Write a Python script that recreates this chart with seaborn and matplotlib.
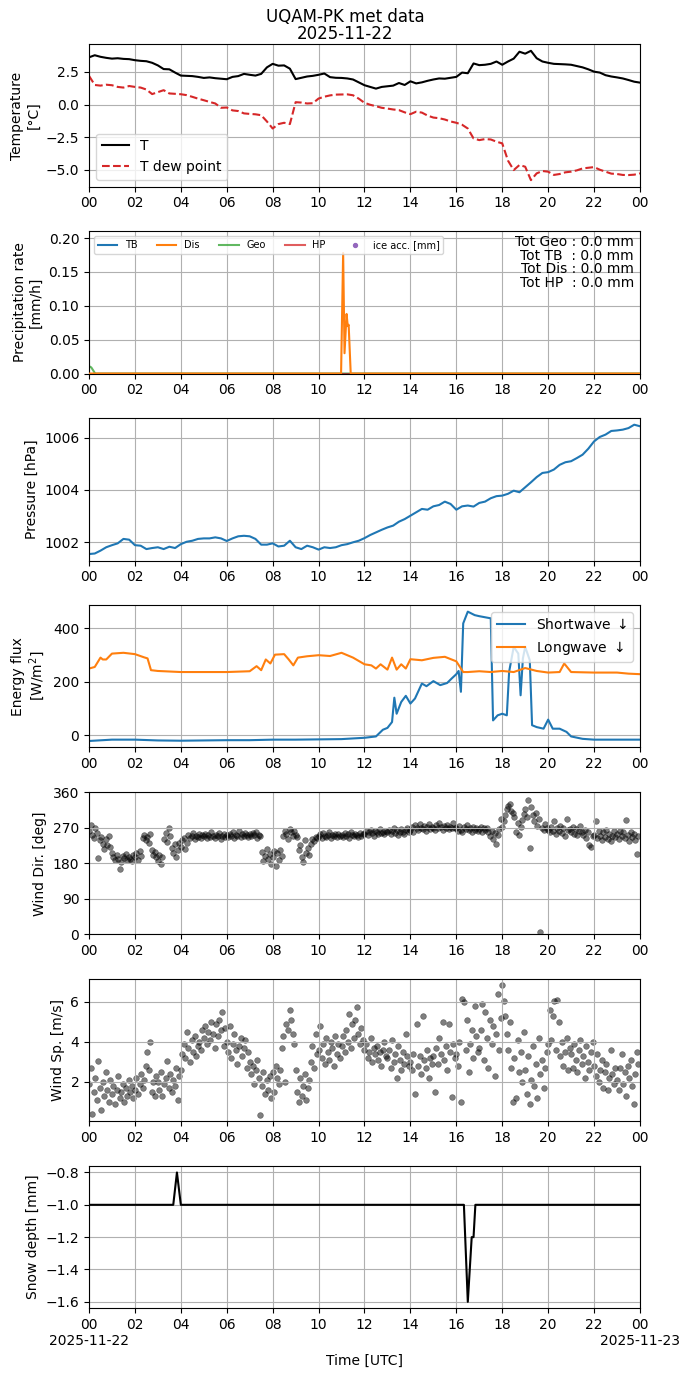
import matplotlib
matplotlib.use("Agg")
import matplotlib.pyplot as plt
import matplotlib.dates as mdates
from matplotlib.ticker import FuncFormatter
import seaborn as sns
import numpy as np
import pandas as pd

DAY = pd.Timestamp("2025-11-22")

# --- air / dew point temperature, every 15 min [degC]
temp_air = [
    3.62, 3.78, 3.66, 3.58, 3.52, 3.55, 3.50, 3.48, 3.40, 3.35, 3.32, 3.20,
    3.00, 2.72, 2.70, 2.45, 2.22, 2.20, 2.18, 2.12, 2.04, 2.08, 2.02, 1.98,
    1.94, 2.12, 2.18, 2.35, 2.28, 2.22, 2.35, 2.85, 3.12, 2.98, 3.00, 2.75,
    1.95, 2.05, 2.15, 2.20, 2.28, 2.38, 2.10, 2.05, 2.04, 2.00, 1.92, 1.70,
    1.48, 1.35, 1.22, 1.35, 1.40, 1.45, 1.65, 1.50, 1.78, 1.62, 1.70, 1.82,
    1.92, 2.00, 1.98, 2.05, 2.12, 2.45, 2.40, 3.15, 3.02, 3.05, 3.12, 3.30,
    3.05, 3.30, 3.52, 4.05, 3.90, 4.12, 3.55, 3.30, 3.20, 3.12, 3.10, 3.08,
    3.05, 2.95, 2.85, 2.70, 2.52, 2.45, 2.25, 2.15, 2.08, 2.00, 1.88, 1.75,
    1.68,
]
temp_dew = [
    2.20, 1.50, 1.45, 1.52, 1.48, 1.35, 1.30, 1.42, 1.35, 1.30, 1.15, 0.80,
    0.95, 1.10, 0.85, 0.82, 0.79, 0.72, 0.59, 0.45, 0.33, 0.20, 0.08, -0.25,
    -0.23, -0.45, -0.50, -0.68, -0.72, -0.75, -0.82, -1.30, -1.84, -1.50, -1.40, -1.50,
    0.18, 0.15, 0.08, 0.10, 0.46, 0.60, 0.70, 0.76, 0.77, 0.78, 0.71, 0.45,
    0.13, -0.02, -0.13, -0.25, -0.31, -0.38, -0.43, -0.60, -0.74, -0.55, -0.62, -0.85,
    -1.00, -1.05, -1.15, -1.30, -1.40, -1.55, -1.84, -2.60, -2.73, -2.65, -2.68, -2.85,
    -2.98, -4.30, -5.03, -4.64, -4.77, -5.80, -5.28, -5.10, -5.15, -5.40, -5.33, -5.20,
    -5.15, -5.05, -4.90, -4.85, -4.80, -5.00, -5.15, -5.30, -5.33, -5.40, -5.41, -5.38,
    -5.28,
]

# --- precipitation rate [mm/h] (hours, values)
tb_hours = [0, 24]
tb_rate = [0.0, 0.0]
dis_hours = [0, 10.98, 11.07, 11.13, 11.22, 11.27, 11.31, 11.40, 24]
dis_rate = [0.0, 0.0, 0.178, 0.03, 0.088, 0.07, 0.072, 0.0, 0.0]
geo_hours = [0, 0.1, 0.27, 24]
geo_rate = [0.011, 0.009, 0.0, 0.0]
hp_hours = [0, 24]
hp_rate = [0.0, 0.0]
tot_names = ["Geo", "TB", "Dis", "HP"]
tot_values = [0.0, 0.0, 0.0, 0.0]

# --- pressure, every 15 min [hPa]
pressure = [
    1001.54, 1001.56, 1001.67, 1001.80, 1001.88, 1001.95, 1002.12, 1002.09,
    1001.88, 1001.86, 1001.73, 1001.77, 1001.80, 1001.73, 1001.82, 1001.77,
    1001.92, 1002.01, 1002.05, 1002.12, 1002.14, 1002.14, 1002.18, 1002.14,
    1002.04, 1002.14, 1002.22, 1002.24, 1002.22, 1002.12, 1001.90, 1001.90,
    1001.95, 1001.83, 1001.86, 1002.05, 1001.80, 1001.73, 1001.86, 1001.80,
    1001.71, 1001.80, 1001.77, 1001.80, 1001.88, 1001.92, 1001.99, 1002.05,
    1002.15, 1002.27, 1002.37, 1002.47, 1002.56, 1002.63, 1002.78, 1002.88,
    1003.01, 1003.14, 1003.27, 1003.24, 1003.37, 1003.42, 1003.55, 1003.46,
    1003.24, 1003.37, 1003.40, 1003.36, 1003.50, 1003.55, 1003.68, 1003.76,
    1003.78, 1003.85, 1003.97, 1003.91, 1004.10, 1004.29, 1004.49, 1004.65,
    1004.68, 1004.78, 1004.96, 1005.06, 1005.10, 1005.22, 1005.35, 1005.58,
    1005.86, 1006.03, 1006.12, 1006.26, 1006.28, 1006.31, 1006.37, 1006.50,
    1006.44,
]

# --- radiation [W/m2] (hours, values)
sw_hours = [0, 1, 2, 3, 4, 5, 6, 7, 8, 9, 10, 11, 12,
            12.5, 12.8, 13.0, 13.2, 13.3, 13.4, 13.6, 13.8, 14.0, 14.2,
            14.5, 14.7, 15.0, 15.3, 15.6, 15.8, 16.0, 16.1, 16.2, 16.3,
            16.5, 16.8, 17.0, 17.5, 17.6, 17.8, 18.0, 18.2, 18.3, 18.5,
            18.7, 18.8, 18.9, 19.0, 19.2, 19.3, 19.5, 19.8, 20.0, 20.2,
            20.5, 20.8, 21.0, 21.5, 22.0, 23.0, 24.0]
sw_flux = [-21, -16, -16, -19, -20, -19, -18, -18, -16, -16, -15, -14, -9,
           -4, 21, 28, 50, 141, 81, 125, 148, 119, 138,
           194, 184, 203, 188, 196, 213, 229, 241, 163, 419,
           463, 450, 446, 438, 56, 75, 81, 75, 238, 331,
           306, 150, 288, 331, 281, 38, 31, 25, 59, 25,
           25, 13, -4, -13, -16, -16, -16]
lw_hours = [0, 0.25, 0.5, 0.6, 0.75, 1.0, 1.5, 2.0, 2.4, 2.55, 2.7,
            3, 4, 5, 6, 7, 7.3, 7.5, 7.7, 7.9, 8.1, 8.5, 8.7, 8.9, 9.1,
            9.5, 10, 10.5, 11, 11.5, 12, 12.3, 12.5, 12.7, 13, 13.2,
            13.4, 13.6, 13.8, 14, 14.5, 15, 15.5, 16, 16.3, 16.5, 17,
            17.5, 18, 18.5, 19, 19.5, 20, 20.5, 20.7, 21, 22, 23, 23.5, 24]
lw_flux = [250, 256, 291, 284, 284, 306, 309, 304, 292, 288, 244,
           241, 237, 237, 237, 240, 259, 244, 284, 269, 302, 304, 284, 262, 291,
           296, 300, 297, 309, 291, 266, 262, 250, 266, 246, 291,
           246, 266, 250, 285, 281, 290, 294, 277, 237, 237, 240,
           237, 241, 237, 252, 241, 235, 237, 269, 237, 235, 235, 231, 229]

# --- wind, every 4 min (one row per hour)
wind_dir = [
    [262, 278, 251, 244, 270, 256, 193, 238, 247, 229, 215, 241, 226, 250, 222],
    [205, 196, 188, 201, 192, 165, 184, 199, 193, 203, 187, 197, 190, 185, 200],
    [196, 205, 188, 210, 199, 243, 251, 238, 247, 232, 254, 214, 200, 208, 196],
    [185, 201, 178, 196, 241, 256, 233, 270, 248, 219, 205, 228, 197, 214, 232],
    [222, 238, 244, 216, 230, 252, 245, 249, 256, 241, 250, 247, 253, 244, 251],
    [248, 255, 243, 251, 246, 258, 250, 244, 252, 249, 256, 241, 250, 253, 247],
    [251, 246, 255, 249, 258, 244, 252, 250, 262, 247, 254, 249, 257, 251, 246],
    [253, 248, 256, 251, 259, 245, 252, 249, 208, 186, 199, 215, 192, 203, 178],
    [196, 210, 174, 205, 188, 214, 199, 248, 262, 255, 241, 266, 258, 250, 261],
    [252, 246, 213, 226, 195, 184, 238, 207, 219, 200, 229, 241, 236, 247, 244],
    [248, 253, 245, 256, 250, 247, 252, 258, 244, 251, 249, 255, 246, 253, 250],
    [252, 247, 256, 250, 254, 245, 258, 251, 249, 255, 252, 246, 257, 250, 253],
    [255, 261, 252, 258, 264, 256, 250, 262, 259, 254, 266, 257, 260, 253, 262],
    [258, 264, 255, 261, 268, 257, 263, 252, 260, 266, 259, 255, 263, 270, 258],
    [265, 272, 260, 276, 268, 263, 279, 270, 266, 274, 262, 271, 280, 267, 273],
    [270, 265, 276, 268, 282, 271, 264, 275, 269, 278, 266, 273, 270, 283, 268],
    [268, 262, 274, 265, 259, 271, 266, 276, 263, 269, 258, 272, 265, 270, 261],
    [266, 272, 260, 268, 263, 270, 258, 248, 262, 241, 256, 228, 251, 266, 292],
    [272, 288, 301, 318, 325, 329, 312, 307, 296, 258, 283, 252, 271, 290, 305],
    [318, 296, 340, 219, 322, 301, 287, 308, 275, 293, 6, 270, 264, 279, 268],
    [265, 258, 272, 261, 287, 254, 268, 262, 275, 256, 270, 249, 291, 263, 267],
    [260, 271, 255, 266, 252, 262, 274, 258, 251, 265, 244, 259, 226, 222, 248],
    [252, 287, 244, 261, 250, 239, 258, 247, 265, 242, 255, 237, 250, 262, 246],
    [255, 241, 262, 248, 258, 244, 290, 251, 237, 259, 246, 253, 240, 203, 249],
]
wind_speed = [
    [1.9, 2.7, 0.4, 1.5, 2.2, 1.1, 3.05, 1.7, 0.6, 2.0, 1.3, 2.5, 1.6, 1.0, 2.1],
    [1.4, 1.8, 0.9, 1.6, 2.3, 1.2, 1.5, 1.9, 1.0, 1.7, 1.3, 2.1, 1.5, 1.8, 1.2],
    [1.6, 2.2, 1.4, 1.9, 2.4, 1.7, 2.1, 2.8, 3.5, 2.6, 3.98, 1.5, 2.0, 1.3, 2.3],
    [2.0, 1.6, 2.5, 1.3, 1.9, 2.2, 3.06, 1.7, 2.4, 1.5, 2.1, 1.8, 2.7, 1.1, 2.3],
    [2.6, 3.4, 3.9, 3.2, 4.5, 3.7, 3.0, 4.1, 3.5, 4.3, 3.3, 3.8, 4.0, 3.6, 4.6],
    [4.2, 4.8, 3.9, 4.5, 4.1, 5.0, 4.4, 3.7, 4.9, 4.3, 5.1, 4.6, 5.5, 3.8, 4.7],
    [4.0, 3.5, 4.8, 3.2, 3.9, 4.4, 3.6, 2.9, 3.8, 4.2, 3.3, 3.7, 4.1, 2.7, 3.5],
    [3.0, 2.4, 2.8, 1.9, 2.6, 3.1, 2.2, 0.35, 1.8, 2.5, 1.4, 2.1, 1.6, 2.3, 1.2],
    [2.5, 1.5, 2.8, 2.2, 1.9, 2.6, 3.7, 4.3, 2.0, 4.9, 4.6, 5.6, 5.1, 4.4, 3.9],
    [2.6, 1.5, 1.0, 2.2, 1.3, 1.8, 2.4, 1.1, 1.7, 2.1, 3.0, 3.8, 2.7, 4.4, 3.4],
    [3.6, 4.8, 3.2, 3.9, 2.9, 4.2, 3.5, 3.1, 4.0, 3.7, 2.8, 4.3, 3.4, 3.9, 3.2],
    [3.8, 4.3, 3.5, 4.6, 4.0, 5.4, 3.7, 4.9, 4.2, 5.1, 5.75, 4.4, 3.9, 4.7, 4.1],
    [3.6, 3.9, 3.2, 3.5, 4.2, 3.0, 3.7, 3.4, 3.8, 3.1, 3.5, 2.8, 3.6, 4.0, 3.3],
    [3.2, 3.6, 2.7, 4.1, 3.0, 3.4, 2.2, 3.8, 3.1, 2.6, 3.5, 2.9, 4.4, 3.3, 2.8],
    [3.0, 2.6, 3.4, 1.4, 4.9, 2.8, 3.3, 2.4, 5.3, 3.1, 2.7, 3.6, 2.2, 3.2, 2.9],
    [3.3, 1.5, 3.7, 2.9, 4.2, 3.4, 5.0, 3.1, 3.8, 2.6, 4.9, 3.5, 1.25, 3.9, 3.2],
    [3.4, 2.8, 4.0, 1.0, 6.17, 6.0, 3.6, 5.1, 2.5, 3.9, 4.6, 3.2, 5.8, 4.3, 3.5],
    [3.7, 4.6, 5.9, 3.1, 5.5, 4.2, 2.7, 5.1, 3.9, 4.8, 2.3, 4.4, 6.4, 3.6, 5.2],
    [6.84, 6.05, 5.3, 4.4, 3.6, 5.0, 2.7, 1.0, 3.2, 1.2, 4.1, 2.5, 3.5, 2.0, 4.5],
    [2.6, 1.4, 3.3, 0.9, 2.1, 3.8, 1.8, 2.9, 1.2, 4.2, 2.4, 3.1, 1.7, 2.7, 3.5],
    [3.9, 5.6, 4.1, 5.3, 6.05, 3.6, 6.1, 5.0, 3.3, 4.0, 2.8, 3.5, 4.2, 2.6, 3.7],
    [3.4, 2.7, 3.9, 3.1, 2.5, 3.6, 4.1, 2.9, 3.3, 2.2, 3.8, 3.0, 2.6, 3.5, 4.0],
    [2.8, 2.3, 3.4, 2.0, 2.6, 3.1, 1.7, 2.5, 2.9, 1.6, 2.2, 3.6, 2.4, 1.9, 2.7],
    [2.1, 1.6, 2.7, 3.4, 1.9, 2.5, 1.3, 2.8, 2.2, 3.1, 1.8, 0.9, 2.4, 3.5, 2.9],
]

# --- snow depth [mm] (hours, values)
snow_hours = [0, 3.67, 3.83, 4.0, 16.33, 16.5, 16.67, 16.75, 16.83, 24]
snow_depth = [-1.0, -1.0, -0.8, -1.0, -1.0, -1.6, -1.2, -1.2, -1.0, -1.0]


def at_hours(hours):
    return DAY + pd.to_timedelta(np.asarray(hours, dtype=float), unit="h")


t15 = pd.date_range(DAY, periods=len(temp_air), freq="15min")
t4 = pd.date_range(DAY, periods=24 * 15, freq="4min")

fig, axes = plt.subplots(7, 1, figsize=(6.9, 13.77), dpi=100)
plt.subplots_adjust(left=0.129, right=0.9275, bottom=0.0499, top=0.9678, hspace=0.314)
fig.suptitle("UQAM-PK met data\n" + DAY.strftime("%Y-%m-%d"), fontsize=12,
             linespacing=0.95, y=0.9945)

# Temperature
ax = axes[0]
sns.lineplot(x=t15, y=temp_air, ax=ax, color="k", label="T")
sns.lineplot(x=t15, y=temp_dew, ax=ax, color="tab:red", linestyle="--", label="T dew point")
ax.legend(loc="lower left")
ax.set_ylabel("Temperature\n[°C]")

# Precipitation
ax = axes[1]
sns.lineplot(x=at_hours(tb_hours), y=tb_rate, ax=ax, color="tab:blue", label="TB")
sns.lineplot(x=at_hours(dis_hours), y=dis_rate, ax=ax, color="tab:orange", label="Dis", zorder=4)
sns.lineplot(x=at_hours(geo_hours), y=geo_rate, ax=ax, color="tab:green", alpha=0.75, label="Geo")
sns.lineplot(x=at_hours(hp_hours), y=hp_rate, ax=ax, color="tab:red", alpha=0.75, label="HP")
ax.scatter([], [], color="tab:purple", s=8, label="ice acc. [mm]")
ax.legend(loc="upper left", ncol=5, fontsize=7)
tot_text = "\n".join(f"Tot {n:<3} : {v:.1f} mm" for n, v in zip(tot_names, tot_values))
ax.text(0.989, 0.975, tot_text, transform=ax.transAxes, ha="right", va="top",
        fontsize=10, linespacing=0.98)
ax.set_ylim(0, 0.21)
ax.set_ylabel("Precipitation rate\n[mm/h]")

# Pressure
ax = axes[2]
sns.lineplot(x=t15, y=pressure, ax=ax, color="tab:blue")
ax.set_yticks([1002, 1004, 1006])
ax.set_ylabel("Pressure [hPa]")

# Radiation
ax = axes[3]
sns.lineplot(x=at_hours(sw_hours), y=sw_flux, ax=ax, color="tab:blue", label=r"Shortwave $\downarrow$")
sns.lineplot(x=at_hours(lw_hours), y=lw_flux, ax=ax, color="tab:orange", label=r"Longwave $\downarrow$")
ax.legend(loc="upper right")
ax.set_yticks([0, 200, 400])
ax.set_ylabel("Energy flux\n[W/m$^2$]")

# Wind direction
ax = axes[4]
sns.scatterplot(x=t4, y=np.ravel(wind_dir), ax=ax, color="k", alpha=0.5, s=17,
                edgecolor="k", linewidth=0.4)
ax.set_ylim(0, 360)
ax.set_yticks([0, 90, 180, 270, 360])
ax.set_ylabel("Wind Dir. [deg]")

# Wind speed
ax = axes[5]
sns.scatterplot(x=t4, y=np.ravel(wind_speed), ax=ax, color="k", alpha=0.5, s=17,
                edgecolor="k", linewidth=0.4)
ax.set_ylim(0.01, 7.15)
ax.set_yticks([2, 4, 6])
ax.set_ylabel("Wind Sp. [m/s]")

# Snow depth
ax = axes[6]
sns.lineplot(x=at_hours(snow_hours), y=snow_depth, ax=ax, color="k")
ax.set_ylabel("Snow depth [mm]")


def last_fmt(x, pos):
    d = mdates.num2date(x)
    if d.hour == 0:
        return d.strftime("%H\n%Y-%m-%d")
    return d.strftime("%H")


for ax in axes:
    ax.set_xlim(DAY, DAY + pd.Timedelta(days=1))
    ax.xaxis.set_major_locator(mdates.HourLocator(interval=2))
    ax.xaxis.set_major_formatter(mdates.DateFormatter("%H"))
    ax.grid(True)
    ax.set_xlabel("")

axes[-1].xaxis.set_major_formatter(FuncFormatter(last_fmt))
axes[-1].set_xlabel("Time [UTC]")

fig.savefig("out.png", dpi=100)
